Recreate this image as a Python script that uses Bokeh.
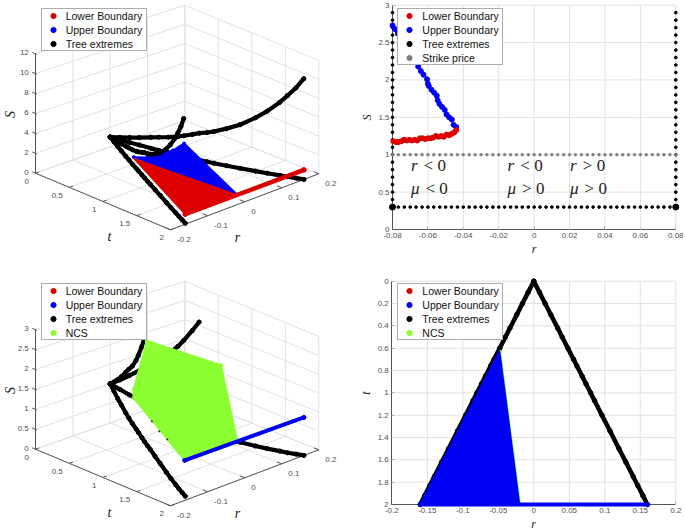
from bokeh.embed import file_html
from bokeh.resources import INLINE
from bokeh.plotting import figure
from bokeh.layouts import column, row
from bokeh.models import Range1d, FixedTicker, Legend, LegendItem
from bokeh.core.properties import value
from math import pi

# ---------- data ----------
tree_t = [0, 0.1, 0.2, 0.3, 0.42, 0.5, 0.6, 0.7, 0.76, 0.85, 0.92, 1, 1.07, 1.2, 1.34, 1.5, 1.62, 1.75, 1.83, 1.92, 2]
tree_r_up = [0, 0.008, 0.016, 0.024, 0.0336, 0.04, 0.048, 0.056, 0.0608, 0.068, 0.0736, 0.08, 0.0856, 0.096, 0.1072,
             0.12, 0.1296, 0.14, 0.1464, 0.1536, 0.16]
tree_r_dn = [0, -0.008, -0.016, -0.024, -0.0336, -0.04, -0.048, -0.056, -0.0608, -0.068, -0.0736, -0.08, -0.0856,
             -0.096, -0.1072, -0.12, -0.1296, -0.14, -0.1464, -0.1536, -0.16]
tree_S_high = [1, 1.14, 1.3, 1.47, 1.7, 1.85, 2.03, 2.27, 2.45, 2.75, 3.0, 3.2, 3.42, 3.95, 4.6, 5.6, 6.5, 7.65, 8.5,
               9.5, 10.6]
tree_S_low_up = [1, 0.9, 0.8, 0.71, 0.57, 0.5, 0.42, 0.35, 0.31, 0.25, 0.21, 0.17, 0.14, 0.1, 0.07, 0.04, 0.02, 0.01,
                 0.0, 0.0, 0.0]
tree_S_low_dn = [1, 0.91, 0.82, 0.75, 0.66, 0.61, 0.56, 0.52, 0.49, 0.45, 0.42, 0.39, 0.37, 0.32, 0.27, 0.21, 0.17,
                 0.14, 0.12, 0.11, 0.1]

# 3D regions, (t, r, S) vertices
lower_t = [0.63, 2, 2]
lower_r = [-0.05, -0.16, -0.02]
lower_S = [1.25, 1.0, 1.0]
upper_t = [0.63, 1, 1.69, 2, 2]
upper_r = [-0.05, -0.08, -0.135, -0.16, -0.02]
upper_S = [1.4, 2.8, 6.2, 8.1, 1.0]
ncs_t = [1, 1.8, 2, 2, 0.63, 0.63]
ncs_r = [-0.08, -0.025, -0.02, -0.16, -0.05, -0.05]
ncs_S = [3.05, 2.83, 1.05, 1.0, 1.25, 1.46]
expiry_t = [2, 2]
expiry_r = [-0.16, 0.16]
expiry_S = [1.0, 1.0]
ncs_speck_t = [1.12, 1.32, 1.53]
ncs_speck_r = [-0.0896, -0.1056, -0.1224]
ncs_speck_S = [1.13, 1.07, 1.07]

# top right panel
lb_r = [-0.0795, -0.078, -0.0765, -0.075, -0.0735, -0.072, -0.0705, -0.069, -0.0675, -0.066, -0.0645, -0.063, -0.0615,
        -0.06, -0.0585, -0.057, -0.0555, -0.054, -0.0525, -0.051, -0.0495, -0.048, -0.0465, -0.045, -0.044]
lb_S = [1.18, 1.17, 1.17, 1.18, 1.2, 1.19, 1.2, 1.19, 1.2, 1.19, 1.22, 1.22, 1.21,
        1.22, 1.22, 1.23, 1.25, 1.24, 1.25, 1.24, 1.27, 1.26, 1.28, 1.3, 1.33]
ub_r = [-0.08, -0.0785, -0.077, -0.0755, -0.074, -0.072, -0.0705, -0.069, -0.0675, -0.0655, -0.064, -0.0625, -0.0605,
        -0.06, -0.0595, -0.058, -0.0565, -0.055, -0.0545, -0.0535, -0.052, -0.0505, -0.0495, -0.048, -0.0465, -0.0455, -0.044]
ub_S = [2.73, 2.68, 2.62, 2.56, 2.5, 2.44, 2.38, 2.31, 2.25, 2.18, 2.12, 2.07, 2.01,
        1.95, 1.92, 1.87, 1.83, 1.79, 1.73, 1.68, 1.64, 1.6, 1.54, 1.5, 1.47, 1.4, 1.37]
edge_S = [0.3, 0.4, 0.5, 0.6, 0.7, 0.8, 0.9, 1.0, 1.1, 1.2, 1.3, 1.4, 1.5, 1.6, 1.7, 1.8, 1.9, 2.0, 2.1, 2.2, 2.3,
          2.4, 2.5, 2.6, 2.7, 2.8, 2.9]
row_r = [-0.08, -0.0767, -0.0733, -0.07, -0.0667, -0.0633, -0.06, -0.0567, -0.0533, -0.05, -0.0467, -0.0433, -0.04,
         -0.0367, -0.0333, -0.03, -0.0267, -0.0233, -0.02, -0.0167, -0.0133, -0.01, -0.0067, -0.0033, 0, 0.0033, 0.0067,
         0.01, 0.0133, 0.0167, 0.02, 0.0233, 0.0267, 0.03, 0.0333, 0.0367, 0.04, 0.0433, 0.0467, 0.05, 0.0533, 0.0567,
         0.06, 0.0633, 0.0667, 0.07, 0.0733, 0.0767, 0.08]
tree_floor_S = 0.3
strike_S = 1.0

# bottom right panel
ub_region_r = [-0.0485, -0.16, -0.0205, -0.0485]
ub_region_t = [0.63, 2, 2, 0.63]
ncs_region_r = [-0.047, -0.019, -0.0205, -0.0485]
ncs_region_t = [0.63, 2, 2, 0.63]
bottom_r = [-0.16, 0.16]
bottom_t = [2, 2]

# ticks
s2_xticks = [-0.08, -0.06, -0.04, -0.02, 0, 0.02, 0.04, 0.06, 0.08]
s2_xlabels = ["-0.08", "-0.06", "-0.04", "-0.02", "0", "0.02", "0.04", "0.06", "0.08"]
s2_yticks = [0, 0.5, 1, 1.5, 2, 2.5, 3]
s2_ylabels = ["0", "0.5", "1", "1.5", "2", "2.5", "3"]
s4_xticks = [-0.2, -0.15, -0.1, -0.05, 0, 0.05, 0.1, 0.15, 0.2]
s4_xlabels = ["-0.2", "-0.15", "-0.1", "-0.05", "0", "0.05", "0.1", "0.15", "0.2"]
s4_yticks = [0, 0.2, 0.4, 0.6, 0.8, 1, 1.2, 1.4, 1.6, 1.8, 2]
s4_ylabels = ["0", "0.2", "0.4", "0.6", "0.8", "1", "1.2", "1.4", "1.6", "1.8", "2"]
t3_ticks = [0, 0.5, 1, 1.5, 2]
t3_labels = ["0", "0.5", "1", "1.5", "2"]
r3_ticks = [-0.2, -0.1, 0, 0.1, 0.2]
r3_labels = ["-0.2", "-0.1", "0", "0.1", "0.2"]
s1_ticks = [0, 2, 4, 6, 8, 10, 12]
s1_labels = ["0", "2", "4", "6", "8", "10", "12"]
s3_ticks = [0, 0.5, 1, 1.5, 2, 2.5, 3]
s3_labels = ["0", "0.5", "1", "1.5", "2", "2.5", "3"]

legend1 = ["Lower Boundary", "Upper Boundary", "Tree extremes"]
legend2 = ["Lower Boundary", "Upper Boundary", "Tree extremes", "Strike price"]
legend3 = ["Lower Boundary", "Upper Boundary", "Tree extremes", "NCS"]

# ---------- styles / layout constants ----------
RED, BLUE, BLACK, GREEN, GRAY = "#DC0000", "#0000F5", "#000000", "#8CFF33", "#808080"
GRID = "#E2E2E2"
AX = "#555555"
TICKTXT = "#505050"
SANS = "Liberation Sans"
SERIF = "Liberation Serif"
W0, W1, H = 342, 343, 266

# screen corners of the 3D box: (t, r) = (0,-.2), (0,.2), (2,.2), (2,-.2)
FLOOR = [(35, 172.7), (184.3, 120), (318.3, 173.3), (170, 229.3)]
TOP = [(35, 53.3), (184.3, 4.7), (318.3, 60), (168, 109)]


def bil(c, u, v):
    return ((1 - u) * (1 - v) * c[0][0] + (1 - u) * v * c[1][0] + u * v * c[2][0] + u * (1 - v) * c[3][0],
            (1 - u) * (1 - v) * c[0][1] + (1 - u) * v * c[1][1] + u * v * c[2][1] + u * (1 - v) * c[3][1])


def make_proj(smax, dy):
    def f(t, r, S):
        u, v, w = t / 2, (r + 0.2) / 0.4, S / smax
        a, b = bil(FLOOR, u, v), bil(TOP, u, v)
        return a[0] * (1 - w) + b[0] * w, a[1] * (1 - w) + b[1] * w + dy
    return f


def pts(P, ts, rs, Ss):
    q = [P(a, b, c) for a, b, c in zip(ts, rs, Ss)]
    return [k[0] for k in q], [k[1] for k in q]


def add_legend(p, labels, renderers, left, top):
    items = [LegendItem(label=l, renderers=[r]) for l, r in zip(labels, renderers)]
    n = len(labels)
    leg = Legend(items=items, location=(left, H - top - (14 * n - 1)), orientation="vertical", margin=0, padding=0,
                 spacing=1, glyph_width=22, glyph_height=13, label_height=13, label_width=80, label_standoff=2,
                 label_text_font=SANS, label_text_font_size="10.5px", label_text_color="#111111",
                 border_line_color="#5a5a5a", border_line_width=1, background_fill_color="white", background_fill_alpha=1)
    p.add_layout(leg)


def panel3d(width, smax, sticks, slabels, dy):
    p = figure(width=width, height=H, x_range=Range1d(0, width), y_range=Range1d(H, 0), toolbar_location=None,
               output_backend="svg", min_border=0, outline_line_color=None)
    p.axis.visible = False
    p.grid.visible = False
    P = make_proj(smax, dy)
    x0, y0, x1, y1 = [], [], [], []

    def seg(a, b, xs0=x0, ys0=y0, xs1=x1, ys1=y1):
        A, B = P(*a), P(*b)
        xs0.append(A[0]); ys0.append(A[1]); xs1.append(B[0]); ys1.append(B[1])
    for s in sticks:
        seg((0, -0.2, s), (0, 0.2, s))
        seg((0, 0.2, s), (2, 0.2, s))
    for r in r3_ticks:
        seg((0, r, 0), (0, r, smax))
        seg((0, r, 0), (2, r, 0))
    for t in t3_ticks:
        seg((t, 0.2, 0), (t, 0.2, smax))
        seg((t, -0.2, 0), (t, 0.2, 0))
    p.segment(x0, y0, x1, y1, line_color=GRID, line_width=1)
    # axes
    ax0, ay0, ax1, ay1 = [], [], [], []

    def aseg(a, b):
        seg(a, b, ax0, ay0, ax1, ay1)
    aseg((0, -0.2, 0), (0, -0.2, smax))
    aseg((0, -0.2, 0), (2, -0.2, 0))
    aseg((2, -0.2, 0), (2, 0.2, 0))
    for s in sticks:
        aseg((-0.05, -0.2, s), (0.02, -0.2, s))
    for t in t3_ticks:
        aseg((t, -0.2, 0), (t, -0.19, 0))
    for r in r3_ticks:
        aseg((2, r, 0), (1.93, r, 0))
    p.segment(ax0, ay0, ax1, ay1, line_color=AX, line_width=1)
    # tick labels
    a = [P(0, -0.2, s) for s in sticks]
    p.text([q[0] - 6.7 for q in a], [q[1] - 1 for q in a], text=slabels, text_font=value(SANS), text_font_size="8px",
           text_color=TICKTXT, text_align="right", text_baseline="middle")
    a = [P(t, -0.2, 0) for t in t3_ticks]
    p.text([q[0] - 6.5 for q in a], [q[1] + 8 for q in a], text=t3_labels, text_font=value(SANS), text_font_size="8px",
           text_color=TICKTXT, text_align="right", text_baseline="middle")
    a = [P(2, r, 0) for r in r3_ticks]
    p.text([q[0] + 6.5 for q in a], [q[1] + 10 for q in a], text=r3_labels, text_font=value(SANS), text_font_size="8px",
           text_color=TICKTXT, text_align="left", text_baseline="middle")
    # axis titles
    p.text([10], [114 + dy], text=["S"], angle=pi / 2, text_font=value(SERIF), text_font_style="italic",
           text_font_size="14px", text_color="#222222", text_align="center", text_baseline="middle")
    p.text([109], [236 + dy], text=["t"], text_font=value(SERIF), text_font_style="italic", text_font_size="14px",
           text_color="#222222", text_align="center", text_baseline="middle")
    p.text([237], [237 + dy], text=["r"], text_font=value(SERIF), text_font_style="italic", text_font_size="14px",
           text_color="#222222", text_align="center", text_baseline="middle")
    return p, P


def tree3d(p, P, smax, which):
    rend = None
    curves = {"low_up": (tree_r_up, tree_S_low_up), "low_dn": (tree_r_dn, tree_S_low_dn),
              "high_up": (tree_r_up, tree_S_high), "high_dn": (tree_r_dn, tree_S_high)}
    for k in which:
        rr, ss = curves[k]
        keep = [i for i, s in enumerate(ss) if s <= smax]
        x, y = pts(P, [tree_t[i] for i in keep], [rr[i] for i in keep], [ss[i] for i in keep])
        p.line(x, y, line_color=BLACK, line_width=4.2, line_cap="round", line_join="round")
        rend = p.scatter(x, y, size=4.2, color=BLACK)
    return rend


def panel2d(width, fx0, fx1, fy0, fy1, xa, xb, ya, yb, xt, xl, yt, yl, xname, yname, reverse=False):
    sx = (xb - xa) / (fx1 - fx0)
    xr = Range1d(xa - fx0 * sx, xb + (width - fx1) * sx)
    sy = (yb - ya) / (fy1 - fy0)
    if reverse:   # ya is at the top
        yr = Range1d(yb + (H - fy1) * sy, ya - fy0 * sy)
        x_loc = yb
    else:         # ya is at the bottom
        yr = Range1d(ya - (H - fy1) * sy, yb + fy0 * sy)
        x_loc = ya
    p = figure(width=width, height=H, x_range=xr, y_range=yr, toolbar_location=None, output_backend="svg",
               min_border=0, outline_line_color=None)
    p.grid.visible = False
    top_edge = ya if reverse else yb
    bot_edge = x_loc
    gx = [v for v in xt if v != xa]
    gy = [v for v in yt if v != x_loc]
    p.segment(gx, [bot_edge] * len(gx), gx, [top_edge] * len(gx), line_color=GRID, line_width=1)
    p.segment([xa] * len(gy), gy, [xb] * len(gy), gy, line_color=GRID, line_width=1)
    for ax, tk, lb, nm, bd in ((p.xaxis, xt, xl, xname, (xa, xb)), (p.yaxis, yt, yl, yname, (ya, yb))):
        ax.ticker = FixedTicker(ticks=tk)
        ax.major_label_overrides = dict(zip(tk, lb))
        ax.bounds = bd
        ax.level = "underlay"
        ax.axis_line_color = AX
        ax.major_tick_line_color = AX
        ax.minor_tick_line_color = None
        ax.major_tick_in = 3
        ax.major_tick_out = 0
        ax.major_label_text_font = SANS
        ax.major_label_text_font_size = "8px"
        ax.major_label_text_color = TICKTXT
        ax.major_label_standoff = 3
        ax.axis_label = nm
        ax.axis_label_text_font = SERIF
        ax.axis_label_text_font_style = "italic"
        ax.axis_label_text_font_size = "12px"
        ax.axis_label_text_color = "#222222"
        ax.axis_label_standoff = 1
    p.xaxis.fixed_location = x_loc
    p.yaxis.fixed_location = xa
    return p


# ---------- panel 1 ----------
p1, P = panel3d(W0, 12, s1_ticks, s1_labels, 0)
tree3d(p1, P, 12, ["low_up"])
x, y = pts(P, upper_t, upper_r, upper_S)
p1.patch(x, y, fill_color=BLUE, line_color=BLUE, line_width=2, line_join="round")
ub1 = p1.scatter(x, y, size=3, color=BLUE)
x, y = pts(P, lower_t, lower_r, lower_S)
p1.patch(x, y, fill_color=RED, line_color=RED, line_width=1.5, line_join="round")
tb1 = tree3d(p1, P, 12, ["low_dn", "high_up", "high_dn"])
x, y = pts(P, expiry_t, expiry_r, expiry_S)
p1.line(x, y, line_color=RED, line_width=4.5, line_cap="round")
lb1 = p1.scatter(x, y, size=4.5, color=RED)
add_legend(p1, legend1, [lb1, ub1, tb1], 40.7, 10)

# ---------- panel 2 ----------
p2 = panel2d(W1, 50, 333.3, 4.7, 229, -0.08, 0.08, 0, 3, s2_xticks, s2_xlabels, s2_yticks, s2_ylabels, "r", "S")
tb2 = p2.scatter([-0.08] * len(edge_S), edge_S, size=2.7, color=BLACK)
p2.scatter([0.08] * len(edge_S), edge_S, size=2.7, color=BLACK)
p2.scatter(row_r, [tree_floor_S] * len(row_r), size=2.7, color=BLACK)
p2.scatter([-0.08, 0.08], [tree_floor_S, tree_floor_S], size=6, color=BLACK)
st2 = p2.scatter(row_r, [strike_S] * len(row_r), size=2.5, color=GRAY)
ub2 = p2.scatter(ub_r, ub_S, size=5, color=BLUE)
lb2 = p2.scatter(lb_r, lb_S, size=5, color=RED)
reg_x = [-0.0696, -0.015, 0.0203]
for yy, name, signs in ((0.857, "r", ["< 0", "< 0", "> 0"]), (0.553, "\u03bc", ["< 0", "> 0", "> 0"])):
    off = 12.7 if name == "r" else 14.5
    p2.text(reg_x, [yy] * 3, text=[name] * 3, text_font=value(SERIF), text_font_style="italic", text_font_size="17px",
            text_color="#222222", text_align="left", text_baseline="middle")
    p2.text(reg_x, [yy] * 3, text=signs, x_offset=off, text_font=value(SERIF), text_font_size="17px",
            text_color="#222222", text_align="left", text_baseline="middle")
add_legend(p2, legend2, [lb2, ub2, tb2, st2], 55.3, 10)

# ---------- panel 3 ----------
p3, P = panel3d(W0, 3, s3_ticks, s3_labels, 10)
tree3d(p3, P, 3, ["low_up", "high_up", "high_dn"])
x, y = pts(P, expiry_t, expiry_r, expiry_S)
lb3 = p3.scatter(x, y, size=3.5, color=RED)
x, y = pts(P, ncs_t, ncs_r, ncs_S)
p3.patch(x, y, fill_color=GREEN, line_color=GREEN, line_width=2, line_join="round")
gs3 = p3.scatter(x, y, size=3, color=GREEN)
tb3 = tree3d(p3, P, 3, ["low_dn"])
x, y = pts(P, ncs_speck_t, ncs_speck_r, ncs_speck_S)
p3.scatter(x, y, size=1.3, color="#333333")
x, y = pts(P, expiry_t, expiry_r, expiry_S)
p3.line(x, y, line_color=BLUE, line_width=4, line_cap="round")
ub3 = p3.scatter(x, y, size=4, color=BLUE)
add_legend(p3, legend3, [lb3, ub3, tb3, gs3], 40.7, 19.3)

# ---------- panel 4 ----------
p4 = panel2d(W1, 49.3, 333.3, 14.7, 238, -0.2, 0.2, 0, 2, s4_xticks, s4_xlabels, s4_yticks, s4_ylabels, "r", "t",
             reverse=True)
p4.line(tree_r_up, tree_t, line_color=BLACK, line_width=4.5, line_cap="round", line_join="round")
p4.line(tree_r_dn, tree_t, line_color=BLACK, line_width=4.5, line_cap="round", line_join="round")
tb4 = p4.scatter(tree_r_up, tree_t, size=4.5, color=BLACK)
p4.scatter(tree_r_dn, tree_t, size=4.5, color=BLACK)
lb4 = p4.scatter(bottom_r, bottom_t, size=3, color=RED)
p4.patch(ncs_region_r, ncs_region_t, fill_color=GREEN, line_color=GREEN, line_width=1.5)
gs4 = p4.scatter(ncs_region_r[:2], ncs_region_t[:2], size=2, color=GREEN)
p4.patch(ub_region_r, ub_region_t, fill_color=BLUE, line_color=BLUE, line_width=2, line_join="round")
p4.line(bottom_r, bottom_t, line_color=BLUE, line_width=4, line_cap="round")
ub4 = p4.scatter(bottom_r, bottom_t, size=4, color=BLUE)
add_legend(p4, legend3, [lb4, ub4, tb4, gs4], 55.3, 19.3)

layout = column(row(p1, p2, spacing=0), row(p3, p4, spacing=0), spacing=0)
open("out.html", "w").write(file_html(layout, INLINE))
